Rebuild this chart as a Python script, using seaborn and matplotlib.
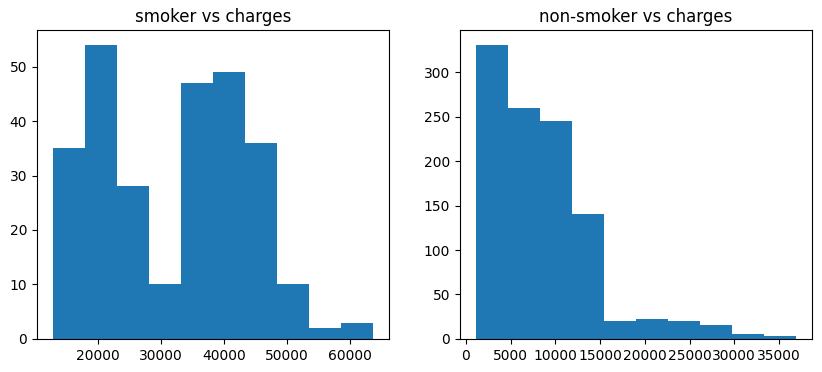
import numpy as np
import pandas as pd
import seaborn as sns
from matplotlib import pyplot as plt

# smoker charges histogram (10 equal bins between min and max)
smoker_range = [12829.46, 63770.43]
smoker_counts = [35, 54, 28, 10, 47, 49, 36, 10, 2, 3]

# non-smoker charges histogram
nonsmoker_range = [1121.87, 36910.61]
nonsmoker_counts = [331, 260, 245, 141, 20, 22, 20, 16, 6, 3]


def draw_hist(ax, value_range, counts, title):
    edges = np.linspace(value_range[0], value_range[1], len(counts) + 1)
    df = pd.DataFrame({"charges": (edges[:-1] + edges[1:]) / 2, "count": counts})
    sns.histplot(data=df, x="charges", weights="count", bins=edges.tolist(), ax=ax,
                 color="#1f77b4", alpha=1, edgecolor="none", linewidth=0)
    ax.set_title(title)
    ax.set_xlabel("")
    ax.set_ylabel("")


fig, axes = plt.subplots(1, 2, figsize=(8.22, 3.72), dpi=100)
plt.subplots_adjust(left=0.045, right=0.988, top=0.919, bottom=0.089, wspace=0.2)

draw_hist(axes[0], smoker_range, smoker_counts, "smoker vs charges")
draw_hist(axes[1], nonsmoker_range, nonsmoker_counts, "non-smoker vs charges")

plt.savefig("out.png", dpi=100)
